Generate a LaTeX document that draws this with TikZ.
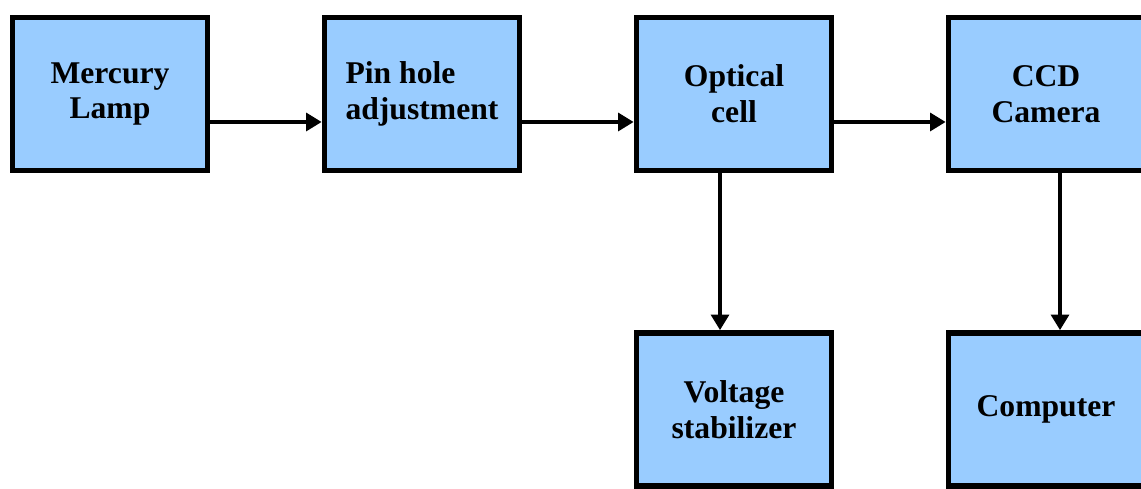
\documentclass[tikz,border=0pt]{standalone}
\usepackage{fontspec}
\setmainfont{Liberation Serif}
\usetikzlibrary{arrows.meta,positioning}
\definecolor{boxblue}{HTML}{99CCFF}
\tikzset{
  block/.style={draw=black, fill=boxblue, line width=1.6pt, minimum width=1.95cm,
    minimum height=1.53cm, inner sep=0pt, align=center,
    font=\fontsize{9pt}{10.2pt}\selectfont\bfseries},
  flow/.style={-{Triangle[length=4.4pt,width=5pt]}, line width=1.2pt}
}
\begin{document}
\begin{tikzpicture}[line cap=butt,line join=miter]
  \useasboundingbox (0,0) rectangle (11.41,-4.89);
  \node[block] (lamp) at (1.10,-0.94) {Mercury\\Lamp};
  \node[block, align=left] (pin) at (4.22,-0.94) {Pin hole\\adjustment};
  \node[block] (cell) at (7.34,-0.94) {Optical\\cell};
  \node[block] (ccd) at (10.46,-0.94) {CCD\\Camera};
  \node[block] (stab) at (7.34,-4.095) {Voltage\\stabilizer};
  \node[block] (comp) at (10.46,-4.095) {Computer};
  \draw[flow] ([yshift=-0.28cm]lamp.east) -- ([yshift=-0.28cm]pin.west);
  \draw[flow] ([yshift=-0.28cm]pin.east) -- ([yshift=-0.28cm]cell.west);
  \draw[flow] ([yshift=-0.28cm]cell.east) -- ([yshift=-0.28cm]ccd.west);
  \draw[flow] ([xshift=-0.14cm]cell.south) -- ([xshift=-0.14cm]stab.north);
  \draw[flow] ([xshift=0.14cm]ccd.south) -- ([xshift=0.14cm]comp.north);
\end{tikzpicture}
\end{document}
